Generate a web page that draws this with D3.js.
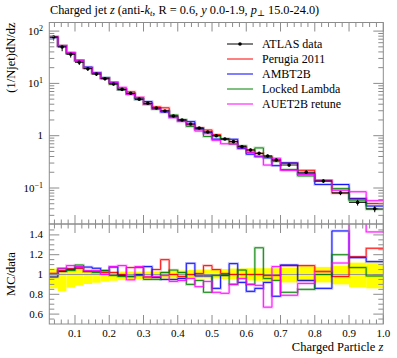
<!DOCTYPE html>
<html lang="en">
<head>
<meta charset="UTF-8">
<title>Charged jet z</title>
<style>
body { margin: 0; background: #fff; }
text { font-family: "Liberation Serif", "DejaVu Serif", serif; fill: #000; }
</style>
</head>
<body>
<script src="https://cdn.jsdelivr.net/npm/d3@7"></script>
<script>
// bin edges in z
var zEdges = [0.025, 0.05, 0.075, 0.1, 0.125, 0.15, 0.175, 0.2, 0.225, 0.25, 0.275, 0.3, 0.325, 0.35,
              0.375, 0.4, 0.425, 0.45, 0.475, 0.5, 0.525, 0.55, 0.575, 0.6, 0.625, 0.65, 0.675, 0.7,
              0.75, 0.8, 0.85, 0.9, 0.95, 1.0];

// ATLAS data (1/Njet) dN/dz
var dataVals = [77, 49.7, 36, 25.3, 19.1, 15.1, 12.3, 9.75, 7.7, 6.46, 5.0, 4.17, 3.39, 2.97, 2.38, 2.0,
                1.67, 1.40, 1.18, 1.0, 0.865, 0.77, 0.616, 0.533, 0.46, 0.41, 0.343, 0.275, 0.20, 0.136,
                0.081, 0.053, 0.04];
// relative data uncertainty (down / up)
var errDn = [0.14, 0.17, 0.134, 0.113, 0.096, 0.083, 0.073, 0.063, 0.057, 0.05, 0.047, 0.044, 0.04, 0.04,
             0.04, 0.04, 0.04, 0.04, 0.04, 0.04, 0.045, 0.05, 0.055, 0.06, 0.063, 0.063, 0.063, 0.08,
             0.075, 0.08, 0.10, 0.13, 0.14];
var errUp = [0.06, 0.06, 0.05, 0.045, 0.04, 0.035, 0.035, 0.03, 0.03, 0.03, 0.03, 0.03, 0.03, 0.035,
             0.04, 0.04, 0.045, 0.05, 0.05, 0.05, 0.055, 0.06, 0.06, 0.063, 0.063, 0.063, 0.063, 0.067,
             0.083, 0.077, 0.09, 0.12, 0.12];

// MC / data ratios
var perugia = [1.01, 1.04, 1.06, 1.06, 1.03, 1.03, 1.02, 1.02, 1.0, 1.07, 1.07, 0.975, 1.05, 1.15, 1.0,
               0.98, 1.0, 1.01, 1.09, 1.05, 1.01, 1.0, 1.0, 1.0, 1.0, 0.99, 0.99, 1.09, 1.09, 1.03,
               0.98, 1.18, 1.265];
var ambt2b = [0.975, 1.03, 1.05, 1.075, 1.075, 1.063, 1.04, 1.075, 0.99, 0.98, 1.0, 1.08, 0.97, 0.95, 0.95,
              0.96, 1.113, 0.985, 0.985, 0.86, 0.99, 1.11, 0.92, 0.83, 0.86, 0.92, 0.78, 1.096, 0.94,
              0.86, 1.44, 1.17, 1.13];
var lockedLambda = [1.0, 1.06, 1.04, 1.096, 1.03, 1.02, 1.04, 0.99, 0.98, 0.98, 0.99, 0.95, 0.95, 1.02,
                    1.045, 1.02, 0.9, 0.94, 0.82, 0.99, 0.995, 0.9, 1.045, 0.9, 1.27, 0.96, 0.94, 0.82,
                    0.85, 1.0, 1.2, 1.07, 0.985];
var auet2b = [1.01, 1.063, 1.09, 1.08, 1.04, 1.04, 1.0, 1.08, 1.09, 0.946, 1.08, 0.975, 0.98, 0.99, 0.93,
              0.94, 0.96, 0.877, 0.93, 0.82, 0.81, 0.9, 0.96, 0.9, 0.89, 0.67, 1.08, 0.79, 0.91, 1.03,
              1.116, 1.6, 1.43];

var mcNames = ["Perugia 2011", "AMBT2B", "Locked Lambda", "AUET2B retune"];
var mcColors = ["#ff0000", "#0000ff", "#008000", "#ff00ff"];
var mcRatios = [perugia, ambt2b, lockedLambda, auet2b];

var xTickLabels = ["0.1", "0.2", "0.3", "0.4", "0.5", "0.6", "0.7", "0.8", "0.9", "1.0"];
var ratioTickLabels = ["0.6", "0.8", "1", "1.2", "1.4"];

var W = 397, H = 358;
var pLeft = 49.3, pRight = 383.3, pTop = 22.5, pMid = 224, pBottom = 324;
var frameColor = "#8c8c8c";

var svg = d3.select("body").append("svg").attr("width", W).attr("height", H);

var x = d3.scaleLinear().domain([0.025, 1.0]).range([pLeft, pRight]);
var y = d3.scaleLog().domain([0.0205, 146]).range([pMid, pTop]);
var yr = d3.scaleLinear().domain([0.5, 1.5]).range([pBottom, 225]);

var defs = svg.append("defs");
defs.append("clipPath").attr("id", "clipMain").append("rect")
	.attr("x", pLeft).attr("y", pTop).attr("width", pRight - pLeft).attr("height", pMid - pTop);
defs.append("clipPath").attr("id", "clipRatio").append("rect")
	.attr("x", pLeft).attr("y", pMid).attr("width", pRight - pLeft).attr("height", pBottom - pMid);

// step path through bins
function stepPath(vals, ys) {
	var p = d3.path();
	vals.forEach(function(v, i) {
		if (i == 0) p.moveTo(x(zEdges[0]), ys(v));
		else p.lineTo(x(zEdges[i]), ys(v));
		p.lineTo(x(zEdges[i + 1]), ys(v));
	});
	return p.toString();
}

// ---------- main panel ----------
var gMain = svg.append("g").attr("clip-path", "url(#clipMain)");

mcRatios.forEach(function(r, k) {
	var vals = r.map(function(d, i) { return d * dataVals[i]; });
	gMain.append("path").attr("d", stepPath(vals, y))
		.attr("fill", "none").attr("stroke", mcColors[k]).attr("stroke-width", 2.6).attr("stroke-opacity", 0.25);
	gMain.append("path").attr("d", stepPath(vals, y))
		.attr("fill", "none").attr("stroke", mcColors[k]).attr("stroke-width", 0.9);
});

// data points
var pts = gMain.selectAll(".pt").data(dataVals).enter().append("g").attr("class", "pt");
pts.append("line")
	.attr("x1", function(d, i) { return x(zEdges[i]); })
	.attr("x2", function(d, i) { return x(zEdges[i + 1]); })
	.attr("y1", function(d) { return y(d); }).attr("y2", function(d) { return y(d); })
	.attr("stroke", "#000").attr("stroke-width", 0.9);
pts.append("line")
	.attr("x1", function(d, i) { return x((zEdges[i] + zEdges[i + 1]) / 2); })
	.attr("x2", function(d, i) { return x((zEdges[i] + zEdges[i + 1]) / 2); })
	.attr("y1", function(d, i) { return y(d * (1 - errDn[i])); })
	.attr("y2", function(d, i) { return y(d * (1 + errUp[i])); })
	.attr("stroke", "#000").attr("stroke-width", 1);
pts.append("circle")
	.attr("cx", function(d, i) { return x((zEdges[i] + zEdges[i + 1]) / 2); })
	.attr("cy", function(d) { return y(d); })
	.attr("r", 1.8).attr("fill", "#000");

// ---------- ratio panel ----------
var gRatio = svg.append("g").attr("clip-path", "url(#clipRatio)");

gRatio.selectAll(".band").data(dataVals).enter().append("rect")
	.attr("x", function(d, i) { return x(zEdges[i]); })
	.attr("width", function(d, i) { return x(zEdges[i + 1]) - x(zEdges[i]); })
	.attr("y", function(d, i) { return yr(1 + errUp[i]); })
	.attr("height", function(d, i) { return yr(1 - errDn[i]) - yr(1 + errUp[i]); })
	.attr("fill", "#ffff00");

gRatio.append("line").attr("x1", pLeft).attr("x2", pRight).attr("y1", yr(1)).attr("y2", yr(1))
	.attr("stroke", "#999").attr("stroke-width", 1);

mcRatios.forEach(function(r, k) {
	gRatio.append("path").attr("d", stepPath(r, yr))
		.attr("fill", "none").attr("stroke", mcColors[k]).attr("stroke-width", 2.6).attr("stroke-opacity", 0.25);
	gRatio.append("path").attr("d", stepPath(r, yr))
		.attr("fill", "none").attr("stroke", mcColors[k]).attr("stroke-width", 0.9);
});

// ---------- frames and ticks ----------
var axes = svg.append("g").attr("stroke", frameColor).attr("stroke-width", 1).attr("fill", "none");
axes.append("rect").attr("x", pLeft).attr("y", pTop).attr("width", pRight - pLeft).attr("height", pMid - pTop);
axes.append("rect").attr("x", pLeft).attr("y", pMid).attr("width", pRight - pLeft).attr("height", pBottom - pMid);

var xMajor = d3.range(0.1, 1.001, 0.1);
var xMinor = d3.range(0.04, 1.0, 0.02).filter(function(v) { return Math.abs(v * 10 - Math.round(v * 10)) > 0.01; });

function xTicks(yLine, dir) {
	xMajor.forEach(function(v) {
		axes.append("line").attr("x1", x(v)).attr("x2", x(v)).attr("y1", yLine).attr("y2", yLine + dir * 9);
	});
	xMinor.forEach(function(v) {
		axes.append("line").attr("x1", x(v)).attr("x2", x(v)).attr("y1", yLine).attr("y2", yLine + dir * 4.5);
	});
}
xTicks(pTop, 1);
xTicks(pMid, -1);
xTicks(pMid, 1);
xTicks(pBottom, -1);

function yTick(yy, len) {
	axes.append("line").attr("x1", pLeft).attr("x2", pLeft + len).attr("y1", yy).attr("y2", yy);
	axes.append("line").attr("x1", pRight).attr("x2", pRight - len).attr("y1", yy).attr("y2", yy);
}
[0.1, 1, 10, 100].forEach(function(v) { yTick(y(v), 10); });
[0.01, 0.1, 1, 10, 100].forEach(function(dec) {
	d3.range(2, 10).forEach(function(k) {
		var v = dec * k;
		if (v > y.domain()[0] && v < y.domain()[1]) yTick(y(v), 5);
	});
});
ratioTickLabels.forEach(function(t) { yTick(yr(+t), 10); });
d3.range(0.55, 1.5, 0.05).forEach(function(v) {
	if (Math.abs(v * 5 - Math.round(v * 5)) > 0.01) yTick(yr(v), 5);
});

// ---------- labels ----------
var fs = 11;
[[100, "2"], [10, "1"], [0.1, "\u22121"]].forEach(function(t) {
	var tx = svg.append("text").attr("x", 43).attr("y", y(t[0]) + 3.5).attr("text-anchor", "end").style("font-size", fs + "px");
	tx.append("tspan").text("10");
	tx.append("tspan").attr("dy", -4).style("font-size", "8px").text(t[1]);
});
svg.append("text").attr("x", 43).attr("y", y(1) + 3.5).attr("text-anchor", "end").style("font-size", fs + "px").text("1");

ratioTickLabels.forEach(function(t) {
	svg.append("text").attr("x", 43).attr("y", yr(+t) + 3.5).attr("text-anchor", "end")
		.style("font-size", fs + "px").text(t);
});

xTickLabels.forEach(function(t) {
	svg.append("text").attr("x", x(+t)).attr("y", 337).attr("text-anchor", "middle")
		.style("font-size", fs + "px").text(t);
});

// title
var title = svg.append("text").attr("x", 50).attr("y", 14).style("font-size", "12.3px");
title.append("tspan").text("Charged jet ");
title.append("tspan").style("font-style", "italic").text("z");
title.append("tspan").text(" (anti-");
title.append("tspan").style("font-style", "italic").text("k");
title.append("tspan").attr("dy", 2).style("font-size", "8.5px").style("font-style", "italic").text("t");
title.append("tspan").attr("dy", -2).text(", R = 0.6, ");
title.append("tspan").style("font-style", "italic").text("y");
title.append("tspan").text(" 0.0-1.9, ");
title.append("tspan").style("font-style", "italic").text("p");
title.append("tspan").attr("dy", 2).style("font-size", "8.5px").text("\u22a5");
title.append("tspan").attr("dy", -2).text(" 15.0-24.0)");

// axis titles
var xl = svg.append("text").attr("x", pRight).attr("y", 351).attr("text-anchor", "end").style("font-size", "12.5px");
xl.append("tspan").text("Charged Particle ");
xl.append("tspan").style("font-style", "italic").text("z");

svg.append("text").attr("transform", "translate(15," + pTop + ") rotate(-90)")
	.attr("text-anchor", "end").style("font-size", "12.5px").text("(1/Njet)dN/dz");
svg.append("text").attr("transform", "translate(15,274) rotate(-90)")
	.attr("text-anchor", "middle").style("font-size", "12.5px").text("MC/data");

// ---------- legend ----------
var legY = [44, 59, 74, 89, 104];
var leg = svg.append("g");
leg.append("line").attr("x1", 227).attr("x2", 253).attr("y1", legY[0]).attr("y2", legY[0])
	.attr("stroke", "#000").attr("stroke-width", 1);
leg.append("circle").attr("cx", 240).attr("cy", legY[0]).attr("r", 1.8).attr("fill", "#000");
leg.append("text").attr("x", 262).attr("y", legY[0] + 4).style("font-size", "12px").text("ATLAS data");
mcNames.forEach(function(n, k) {
	leg.append("line").attr("x1", 227).attr("x2", 253).attr("y1", legY[k + 1]).attr("y2", legY[k + 1])
		.attr("stroke", mcColors[k]).attr("stroke-width", 1);
	leg.append("text").attr("x", 262).attr("y", legY[k + 1] + 4).style("font-size", "12px").text(n);
});
</script>
</body>
</html>
